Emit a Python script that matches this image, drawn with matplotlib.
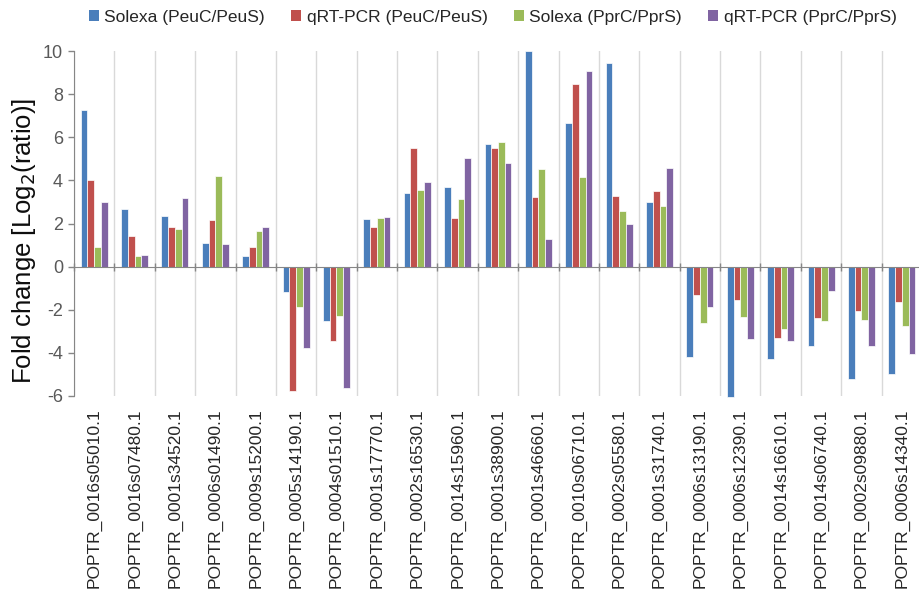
import matplotlib
matplotlib.use("Agg")
import matplotlib.pyplot as plt
from matplotlib.patches import Patch
import numpy as np

plt.rcParams['font.family'] = ['Liberation Sans', 'DejaVu Sans']
plt.rcParams['axes.unicode_minus'] = False

genes = ["POPTR_0016s05010.1", "POPTR_0016s07480.1", "POPTR_0001s34520.1",
         "POPTR_0006s01490.1", "POPTR_0009s15200.1", "POPTR_0005s14190.1",
         "POPTR_0004s01510.1", "POPTR_0001s17770.1", "POPTR_0002s16530.1",
         "POPTR_0014s15960.1", "POPTR_0001s38900.1", "POPTR_0001s46660.1",
         "POPTR_0010s06710.1", "POPTR_0002s05580.1", "POPTR_0001s31740.1",
         "POPTR_0006s13190.1", "POPTR_0006s12390.1", "POPTR_0014s16610.1",
         "POPTR_0014s06740.1", "POPTR_0002s09880.1", "POPTR_0006s14340.1"]

solexa_peu = [7.28, 2.65, 2.35, 1.10, 0.48, -1.16, -2.54, 2.20, 3.40, 3.70, 5.71,
              10.0, 6.68, 9.44, 3.02, -4.18, -6.06, -4.29, -3.67, -5.19, -4.98]
qrt_peu = [4.04, 1.42, 1.85, 2.16, 0.90, -5.78, -3.47, 1.84, 5.52, 2.27, 5.48,
           3.21, 8.49, 3.29, 3.50, -1.32, -1.55, -3.29, -2.36, -2.06, -1.64]
solexa_ppr = [0.90, 0.48, 1.73, 4.18, 1.64, -1.87, -2.28, 2.27, 3.56, 3.13, 5.79,
              4.52, 4.15, 2.56, 2.81, -2.63, -2.32, -2.91, -2.50, -2.48, -2.76]
qrt_ppr = [3.02, 0.56, 3.19, 1.05, 1.82, -3.77, -5.61, 2.30, 3.94, 5.05, 4.81,
           1.28, 9.06, 2.00, 4.57, -1.86, -3.35, -3.47, -1.13, -3.67, -4.06]

series = [solexa_peu, qrt_peu, solexa_ppr, qrt_ppr]
labels = ["Solexa (PeuC/PeuS)", "qRT-PCR (PeuC/PeuS)",
          "Solexa (PprC/PprS)", "qRT-PCR (PprC/PprS)"]
colors = ["#4A7EBB", "#C0504D", "#9BBB59", "#8064A2"]

fig = plt.figure(figsize=(9.19, 5.92), dpi=100)
ax = fig.add_axes([74/919, 1 - 396/592, 848/919, 345/592])

x = np.arange(len(genes))
w = 0.167
for i, (vals, col) in enumerate(zip(series, colors)):
    ax.bar(x + (i - 1.5) * w, vals, width=w, color=col, edgecolor='white',
           linewidth=0.5, zorder=3, clip_on=False)

ax.set_xlim(-0.5, len(genes) - 0.5)
ax.set_ylim(-6, 10)
ax.set_yticks(np.arange(-6, 11, 2))
ax.tick_params(axis='y', direction='out', length=4, color='#868686',
               labelcolor='#595959', labelsize=13, width=1, pad=4)

# zero line with category boundary ticks
ax.spines['bottom'].set_position(('data', 0))
ax.spines['bottom'].set_color('#868686')
ax.spines['bottom'].set_zorder(4)
ax.set_xticks(np.arange(-0.5, len(genes), 1))
ax.tick_params(axis='x', direction='inout', length=6, color='#868686',
               labelbottom=False, width=1)
ax.grid(axis='x', color='#D9D9D9', linewidth=1, zorder=0)
ax.spines['left'].set_color('#868686')
ax.spines['top'].set_visible(False)
ax.spines['right'].set_visible(False)

sec = ax.secondary_xaxis('bottom')
sec.set_xticks(x)
sec.set_xticklabels(genes, rotation=90, fontsize=12.5, color='#262626')
sec.tick_params(length=0, pad=9)
sec.spines['bottom'].set_visible(False)

ax.set_ylabel("Fold change [Log$_2$(ratio)]", fontsize=18.5, color='#0d0d0d')
ax.yaxis.set_label_coords(-0.042, 0.45)

handles = [Patch(facecolor=c, edgecolor='none') for c in colors]
fig.legend(handles, labels, loc='center', bbox_to_anchor=(0.536, 0.971),
           ncol=4, frameon=False, fontsize=12.5, handlelength=0.6,
           handleheight=0.6, handletextpad=0.3, columnspacing=1.5,
           labelcolor='#262626')

fig.savefig("out.png", dpi=100)
